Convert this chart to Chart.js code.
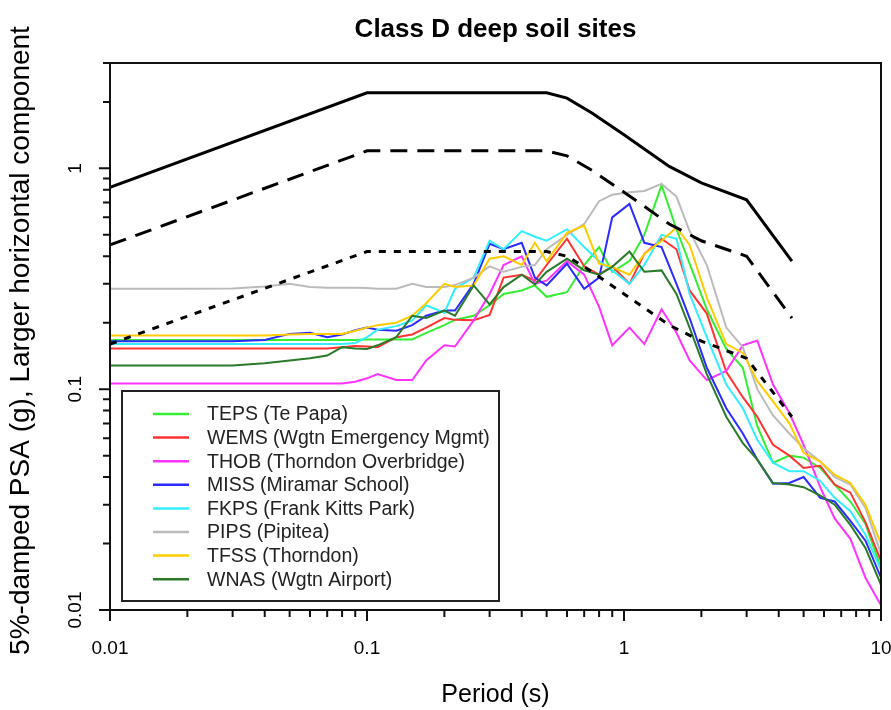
<!DOCTYPE html>
<html>
<head>
<meta charset="utf-8">
<script src="https://cdn.jsdelivr.net/npm/chart.js@4.4.1/dist/chart.umd.min.js"></script>
<style>
  html, body { margin: 0; padding: 0; background: #fff; }
  #c { display: block; }
</style>
</head>
<body>
<canvas id="c" width="891" height="710"></canvas>
<script>
// ---------- DATA ----------
const chartTitle = 'Class D deep soil sites';
const xAxisTitle = 'Period (s)';
const yAxisTitle = '5%-damped PSA (g), Larger horizontal component';
const xTickLabels = ['0.01', '0.1', '1', '10'];
const yTickLabels = ['0.01', '0.1', '1'];

const periods = [0.01,0.02,0.03,0.04,0.05,0.06,0.07,0.08,0.09,0.1,0.11,0.13,0.15,0.17,0.2,0.22,0.26,0.3,0.34,0.4,0.45,0.5,0.6,0.7,0.8,0.9,1.05,1.2,1.4,1.6,1.8,2.1,2.5,2.9,3.3,3.8,4.4,5.0,5.8,6.6,7.6,8.7,10];

const seriesNames = [
  'TEPS (Te Papa)',
  'WEMS (Wgtn Emergency Mgmt)',
  'THOB (Thorndon Overbridge)',
  'MISS (Miramar School)',
  'FKPS (Frank Kitts Park)',
  'PIPS (Pipitea)',
  'TFSS (Thorndon)',
  'WNAS (Wgtn Airport)'
];
const seriesColors = ['#33ee33', '#ff3333', '#ff33ff', '#2b2bff', '#33eeff', '#bbbbbb', '#ffcc00', '#2a7a2a'];

const teps = [0.167,0.167,0.167,0.167,0.167,0.167,0.167,0.167,0.167,0.168,0.168,0.168,0.168,0.18,0.195,0.206,0.215,0.24,0.27,0.28,0.295,0.262,0.275,0.365,0.44,0.34,0.38,0.50,0.84,0.53,0.37,0.23,0.152,0.125,0.068,0.0465,0.050,0.049,0.044,0.037,0.031,0.0245,0.0155];
const wems = [0.153,0.153,0.153,0.153,0.153,0.153,0.153,0.155,0.157,0.156,0.155,0.172,0.177,0.19,0.21,0.206,0.205,0.217,0.32,0.33,0.31,0.365,0.48,0.36,0.33,0.36,0.30,0.41,0.48,0.43,0.28,0.22,0.12,0.092,0.075,0.056,0.050,0.044,0.045,0.037,0.034,0.025,0.0167];
const thob = [0.106,0.106,0.106,0.106,0.106,0.106,0.106,0.106,0.108,0.112,0.117,0.11,0.11,0.135,0.158,0.156,0.205,0.27,0.365,0.40,0.30,0.31,0.38,0.33,0.236,0.158,0.19,0.16,0.23,0.18,0.135,0.11,0.121,0.158,0.166,0.105,0.078,0.056,0.036,0.026,0.021,0.014,0.0105];
const miss = [0.165,0.165,0.165,0.167,0.178,0.18,0.172,0.177,0.185,0.19,0.186,0.184,0.195,0.215,0.227,0.227,0.30,0.455,0.43,0.46,0.32,0.295,0.37,0.285,0.32,0.60,0.69,0.46,0.44,0.30,0.21,0.125,0.082,0.063,0.048,0.0373,0.0376,0.040,0.0322,0.031,0.0253,0.0206,0.014];
const fkps = [0.16,0.16,0.16,0.16,0.16,0.16,0.16,0.16,0.162,0.172,0.186,0.193,0.205,0.24,0.222,0.285,0.32,0.47,0.43,0.52,0.49,0.47,0.53,0.44,0.38,0.345,0.30,0.365,0.50,0.48,0.27,0.172,0.105,0.082,0.059,0.0465,0.0425,0.0425,0.0384,0.0322,0.028,0.0219,0.0152];
const pips = [0.285,0.285,0.286,0.292,0.30,0.29,0.288,0.288,0.288,0.287,0.285,0.285,0.30,0.29,0.29,0.296,0.32,0.36,0.34,0.358,0.365,0.43,0.50,0.56,0.71,0.76,0.78,0.79,0.85,0.745,0.52,0.365,0.19,0.155,0.10,0.076,0.063,0.054,0.047,0.040,0.037,0.029,0.018];
const tfss = [0.175,0.175,0.175,0.175,0.177,0.178,0.178,0.178,0.184,0.19,0.195,0.20,0.215,0.245,0.30,0.29,0.295,0.39,0.40,0.365,0.46,0.38,0.51,0.55,0.37,0.358,0.33,0.41,0.47,0.54,0.45,0.26,0.16,0.146,0.109,0.088,0.07,0.0515,0.047,0.041,0.0376,0.030,0.0199];
const wnas = [0.128,0.128,0.128,0.131,0.135,0.138,0.142,0.155,0.153,0.152,0.158,0.172,0.215,0.21,0.227,0.215,0.295,0.242,0.29,0.33,0.298,0.34,0.39,0.345,0.33,0.358,0.42,0.34,0.345,0.27,0.19,0.117,0.075,0.057,0.048,0.0376,0.037,0.036,0.033,0.030,0.0243,0.0191,0.013];
const seriesValues = [teps, wems, thob, miss, fkps, pips, tfss, wnas];

// design spectra
const designPeriods = [0.01, 0.1, 0.5, 0.6, 0.75, 1.0, 1.5, 2.0, 3.0, 4.5];
const designSolid  = [0.82, 2.2, 2.2, 2.08, 1.78, 1.42, 1.02, 0.86, 0.72, 0.38];
const designDashed = [0.45, 1.2, 1.2, 1.14, 0.98, 0.78, 0.56, 0.47, 0.40, 0.21];
const designDotted = [0.16, 0.42, 0.42, 0.40, 0.34, 0.27, 0.195, 0.165, 0.138, 0.075];

// ---------- BUILD ----------
const FONT = "'Liberation Sans', Arial, Helvetica, sans-serif";
const toPts = (xs, ys) => xs.map((v, i) => ({x: v, y: ys[i]}));

const datasets = [];
[[designSolid, []], [designDashed, [17, 10]], [designDotted, [7, 8]]].forEach((d, i) => {
  datasets.push({
    label: 'design' + i,
    data: toPts(designPeriods, d[0]),
    borderColor: '#000',
    borderWidth: 3,
    borderDash: d[1],
    borderCapStyle: 'butt',
    pointRadius: 0,
    tension: 0,
    order: i,
    inLegend: false
  });
});
seriesNames.forEach((name, i) => {
  datasets.push({
    label: name,
    data: toPts(periods, seriesValues[i]),
    borderColor: seriesColors[i],
    borderWidth: 2,
    pointRadius: 0,
    tension: 0,
    order: 3 + (seriesNames.length - 1 - i),
    inLegend: true
  });
});

const rPlot = {
  id: 'rPlot',
  afterDraw(chart) {
    const {ctx, chartArea: a, scales: {x, y}} = chart;
    ctx.save();
    ctx.strokeStyle = '#111';
    ctx.fillStyle = '#000';
    ctx.lineWidth = 2;
    ctx.lineCap = 'butt';
    // frame
    ctx.strokeRect(a.left, a.top, a.right - a.left, a.bottom - a.top);

    // ticks
    const major = 11, minor = 7;
    ctx.beginPath();
    for (let e = -2; e <= 0; e++) {
      for (let m = 1; m <= 9; m++) {
        const v = m * Math.pow(10, e);
        const px = x.getPixelForValue(v);
        const len = m === 1 ? major : minor;
        ctx.moveTo(px, a.bottom); ctx.lineTo(px, a.bottom + len);
      }
    }
    const p10 = x.getPixelForValue(10);
    ctx.moveTo(p10, a.bottom); ctx.lineTo(p10, a.bottom + major);
    for (let e = -2; e <= 0; e++) {
      for (let m = 1; m <= 9; m++) {
        const v = m * Math.pow(10, e);
        if (v > y.max + 1e-9) continue;
        const py = y.getPixelForValue(v);
        const len = m === 1 ? major : minor;
        ctx.moveTo(a.left, py); ctx.lineTo(a.left - len, py);
      }
    }
    ctx.stroke();

    // tick labels
    ctx.font = '19px ' + FONT;
    ctx.textAlign = 'center';
    ctx.textBaseline = 'middle';
    xTickLabels.forEach(t => {
      ctx.fillText(t, x.getPixelForValue(parseFloat(t)), a.bottom + 39);
    });
    yTickLabels.forEach(t => {
      const py = y.getPixelForValue(parseFloat(t));
      ctx.save();
      ctx.translate(a.left - 34, py);
      ctx.rotate(-Math.PI / 2);
      ctx.fillText(t, 0, 0);
      ctx.restore();
    });

    // axis titles
    ctx.font = '25px ' + FONT;
    ctx.fillText(xAxisTitle, (a.left + a.right) / 2, a.bottom + 85);
    ctx.save();
    ctx.font = '28px ' + FONT;
    ctx.translate(21, (a.top + a.bottom) / 2 + 4);
    ctx.rotate(-Math.PI / 2);
    ctx.fillText(yAxisTitle, 0, 0);
    ctx.restore();

    // main title
    ctx.font = 'bold 26px ' + FONT;
    ctx.fillText(chartTitle, (a.left + a.right) / 2, 30);

    // legend
    const items = chart.data.datasets.filter(d => d.inLegend);
    const bx = a.left + 12, by = a.bottom - 9 - 210, bw = 377, bh = 210;
    ctx.fillStyle = '#fff';
    ctx.fillRect(bx, by, bw, bh);
    ctx.strokeStyle = '#222';
    ctx.lineWidth = 2;
    ctx.strokeRect(bx, by, bw, bh);
    ctx.font = '19.5px ' + FONT;
    ctx.textAlign = 'left';
    items.forEach((d, i) => {
      const ry = by + 23 + i * 23.6;
      ctx.strokeStyle = d.borderColor;
      ctx.lineWidth = 2.5;
      ctx.beginPath();
      ctx.moveTo(bx + 31, ry); ctx.lineTo(bx + 67, ry);
      ctx.stroke();
      ctx.fillStyle = '#222';
      ctx.fillText(d.label, bx + 85, ry + 1);
    });
    ctx.restore();
  }
};

new Chart(document.getElementById('c'), {
  type: 'line',
  data: { datasets },
  options: {
    responsive: false,
    animation: false,
    devicePixelRatio: 1,
    layout: { padding: { top: 63, right: 10, left: 0, bottom: 0 } },
    plugins: { legend: { display: false }, tooltip: { enabled: false }, title: { display: false } },
    scales: {
      x: {
        type: 'logarithmic', min: 0.01, max: 10,
        ticks: { display: false }, grid: { display: false }, border: { display: false },
        afterFit: s => { s.height = 100; }
      },
      y: {
        type: 'logarithmic', min: 0.01, max: 3,
        ticks: { display: false }, grid: { display: false }, border: { display: false },
        afterFit: s => { s.width = 110; }
      }
    }
  },
  plugins: [rPlot]
});
</script>
</body>
</html>
